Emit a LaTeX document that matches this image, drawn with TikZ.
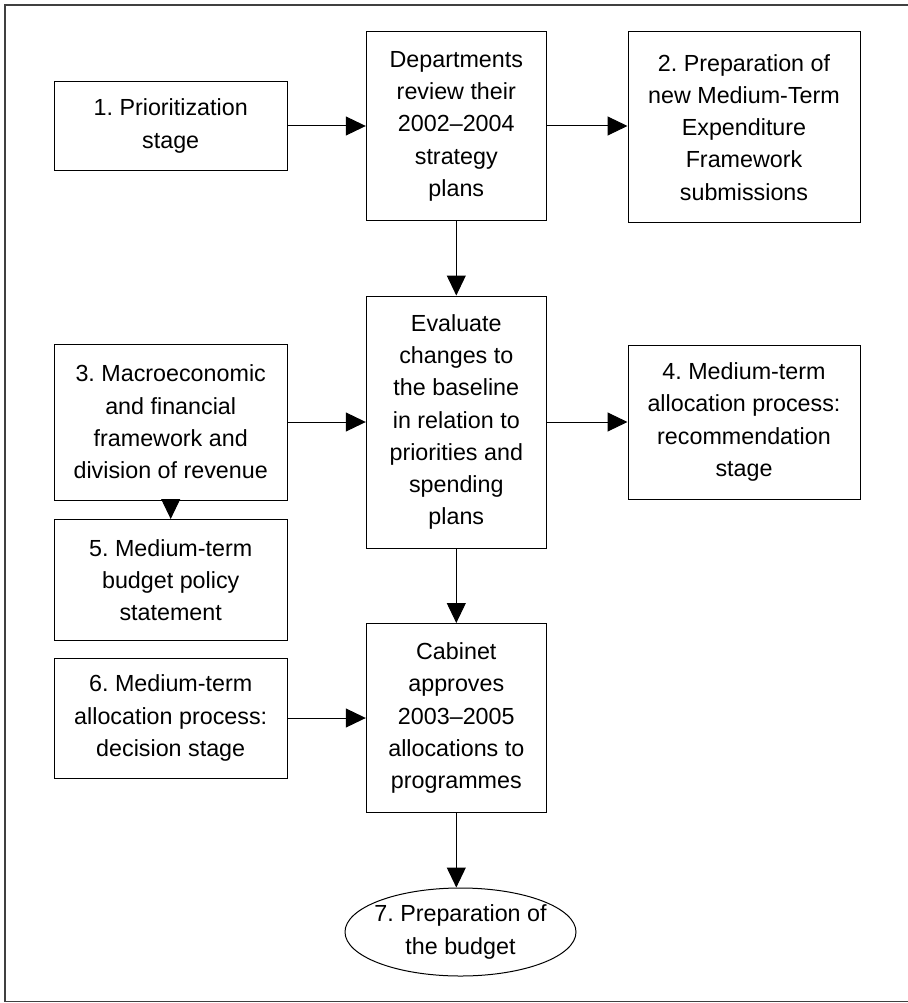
\documentclass[tikz,border=0pt]{standalone}
\usepackage{fontspec}
\setmainfont{Liberation Sans}
\usetikzlibrary{arrows.meta,shapes.geometric}
\tikzset{
  box/.style={draw=black, line width=1pt, rectangle, inner sep=0pt, align=center,
    font=\fontsize{23.3}{32.3}\selectfont},
  oval/.style={draw=black, line width=1pt, ellipse, inner xsep=-25pt, inner ysep=-10pt, align=center,
    font=\fontsize{23.3}{32.3}\selectfont},
  arr/.style={line width=1pt, -{Triangle[length=20pt,width=19pt]}},
  frame/.style={draw=black!75, line width=1.4pt}
}
\begin{document}
\frenchspacing
\begin{tikzpicture}[x=1pt,y=-1pt]
\useasboundingbox (0,0) rectangle (907,1003);
\draw[frame] (911,5) -- (5,5) -- (5,1001.5) -- (911,1001.5);

\node[box, minimum width=233pt, minimum height=88.6pt] (b1) at (170.7,126) {1. Prioritization\\stage};
\node[box, minimum width=180pt, minimum height=189pt] (d) at (456.3,126.2) {Departments\\review their\\2002--2004\\strategy\\plans};
\node[box, minimum width=232pt, minimum height=191.3pt] (b2) at (744,127.3) {2. Preparation of\\new Medium-Term\\Expenditure\\Framework\\submissions};
\node[box, minimum width=180pt, minimum height=252pt] (e) at (456.3,422) {Evaluate\\changes to\\the baseline\\in relation to\\priorities and\\spending\\plans};
\node[box, minimum width=233pt, minimum height=156pt] (b3) at (170.7,422) {3. Macroeconomic\\and financial\\framework and\\division of revenue};
\node[box, minimum width=232pt, minimum height=154pt] (b4) at (744,422) {4. Medium-term\\allocation process:\\recommendation\\stage};
\node[box, minimum width=233pt, minimum height=121pt] (b5) at (170.7,580) {5. Medium-term\\budget policy\\statement};
\node[box, minimum width=233pt, minimum height=120pt] (b6) at (170.7,718) {6. Medium-term\\allocation process:\\decision stage};
\node[box, minimum width=180pt, minimum height=189pt] (c) at (456.3,718) {Cabinet\\approves\\2003--2005\\allocations to\\programmes};
\node[oval, minimum width=231pt, minimum height=88pt] (b7) at (460.5,932) {7. Preparation of\\the budget};

\draw[arr] (b1.east) -- (b1.east -| d.west);
\draw[arr] (d.east |- b1.east) -- (b1.east -| b2.west);
\draw[arr] (d) -- (e);
\draw[arr] (b3) -- (e);
\draw[arr] (e) -- (b4);
\draw[arr] (b3) -- (b5);
\draw[arr] (e) -- (c);
\draw[arr] (b6) -- (c);
\draw[arr] (c.south) -- (c.south |- b7.north);
\end{tikzpicture}
\end{document}
